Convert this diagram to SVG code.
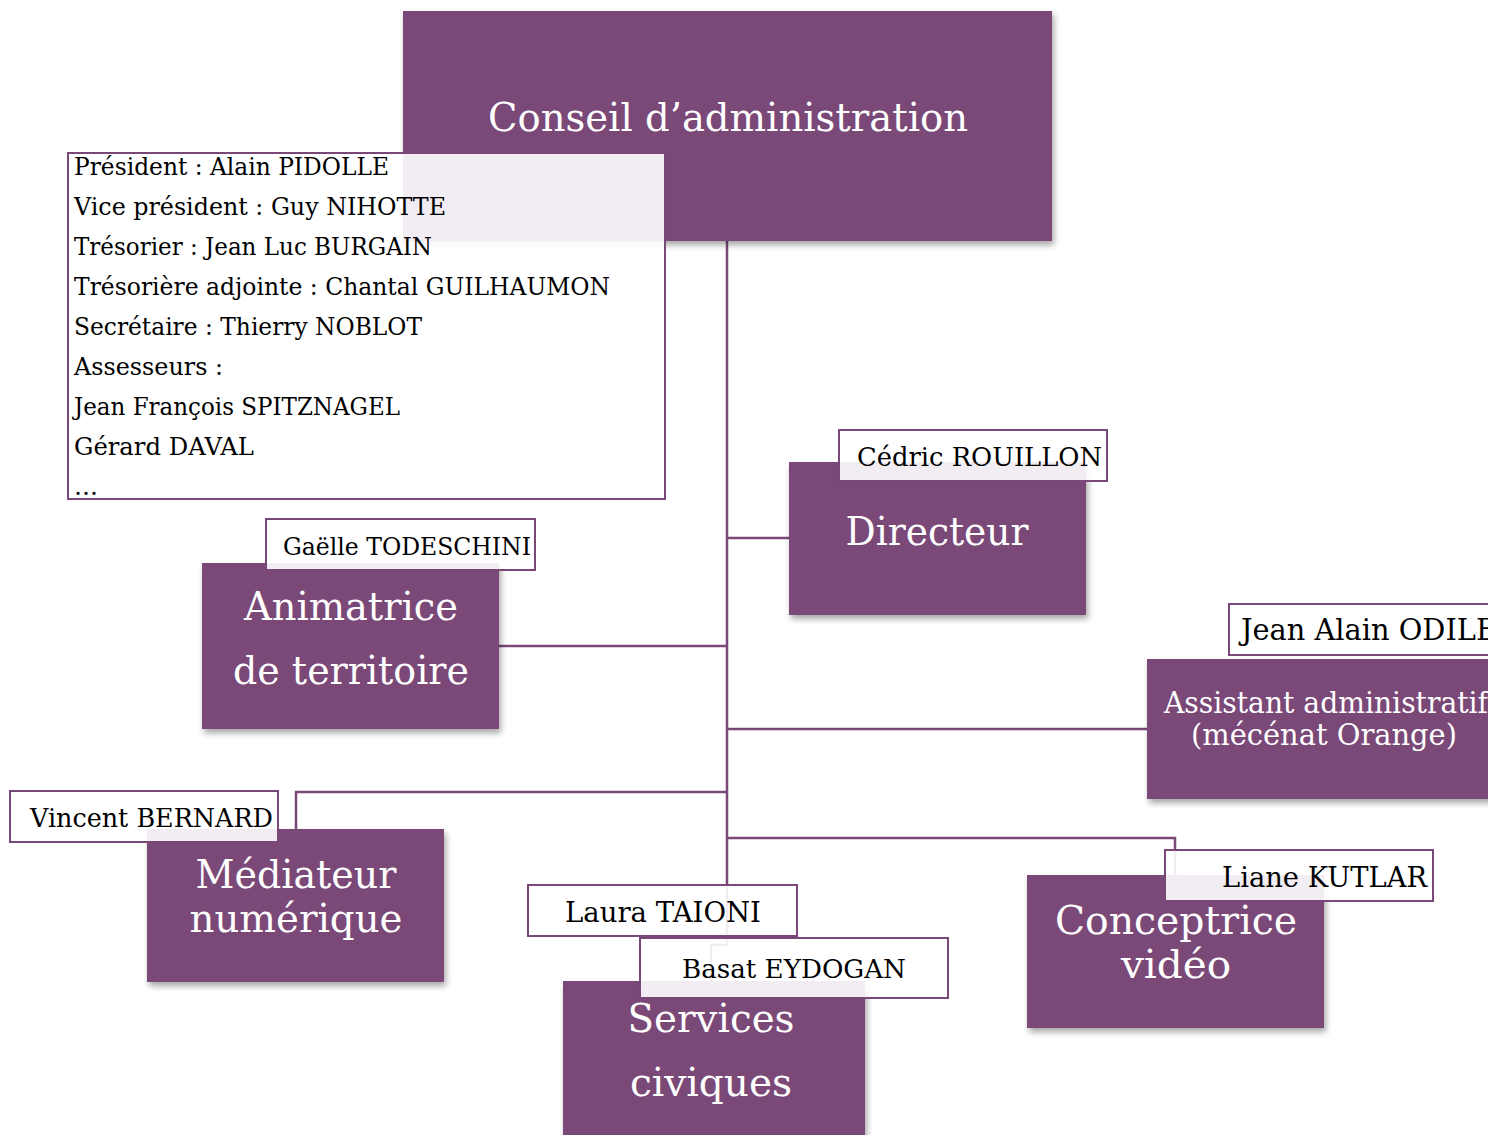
<svg xmlns="http://www.w3.org/2000/svg" width="1488" height="1135" viewBox="0 0 1488 1135">
<defs>
<filter id="sh" x="-10%" y="-10%" width="125%" height="130%">
<feDropShadow dx="2" dy="4" stdDeviation="3" flood-color="#000" flood-opacity="0.35"/>
</filter>
</defs>
<style>
.box{fill:#7A4878;filter:url(#sh)}
.tag{fill:#fff;fill-opacity:0.9;stroke:#7A4878;stroke-width:2}
.t{font-family:"DejaVu Serif","Liberation Serif",serif;fill:#fff;font-size:40px;text-anchor:middle}
.n{font-family:"DejaVu Serif","Liberation Serif",serif;fill:#000;font-size:26px}
.l{font-family:"DejaVu Serif","Liberation Serif",serif;fill:#000;font-size:24px}
.c{fill:none;stroke:#7A4878;stroke-width:2.5}
</style>
<rect width="1488" height="1135" fill="#fff"/>
<g id="connectors">
<path class="c" d="M727 241 V945 H711 V981"/>
<path class="c" d="M727 538 H789"/>
<path class="c" d="M727 646 H499"/>
<path class="c" d="M727 729 H1147"/>
<path class="c" d="M727 792 H296 V829"/>
<path class="c" d="M727 838 H1175 V875"/>
</g>
<g id="conseil">
<rect class="box" x="403" y="11" width="649" height="230"/>
<text class="t" x="728" y="131" textLength="480" lengthAdjust="spacingAndGlyphs">Conseil d’administration</text>
</g>
<g id="membres">
<rect class="tag" x="68" y="153" width="597" height="346"/>
<text class="l" x="74" y="175" textLength="315" lengthAdjust="spacingAndGlyphs">Président : Alain PIDOLLE</text>
<text class="l" x="74" y="215" textLength="372" lengthAdjust="spacingAndGlyphs">Vice président : Guy NIHOTTE</text>
<text class="l" x="74" y="255" textLength="358" lengthAdjust="spacingAndGlyphs">Trésorier : Jean Luc BURGAIN</text>
<text class="l" x="74" y="295" textLength="536" lengthAdjust="spacingAndGlyphs">Trésorière adjointe : Chantal GUILHAUMON</text>
<text class="l" x="74" y="335" textLength="348" lengthAdjust="spacingAndGlyphs">Secrétaire : Thierry NOBLOT</text>
<text class="l" x="74" y="375" textLength="149" lengthAdjust="spacingAndGlyphs">Assesseurs :</text>
<text class="l" x="74" y="415" textLength="326" lengthAdjust="spacingAndGlyphs">Jean François SPITZNAGEL</text>
<text class="l" x="74" y="455" textLength="180" lengthAdjust="spacingAndGlyphs">Gérard DAVAL</text>
<text class="l" x="74" y="495">…</text>
</g>
<g id="directeur">
<rect class="box" x="789" y="462" width="297" height="153"/>
<text class="t" x="937" y="545" textLength="183" lengthAdjust="spacingAndGlyphs">Directeur</text>
<rect class="tag" x="839" y="430" width="268" height="51"/>
<text class="n" x="857" y="466" textLength="245" lengthAdjust="spacingAndGlyphs">Cédric ROUILLON</text>
</g>
<g id="animatrice">
<rect class="box" x="202" y="563" width="297" height="166"/>
<text class="t" x="351" y="620" textLength="214" lengthAdjust="spacingAndGlyphs">Animatrice</text>
<text class="t" x="351" y="684" textLength="236" lengthAdjust="spacingAndGlyphs">de territoire</text>
<rect class="tag" x="266" y="519" width="269" height="51"/>
<text class="l" x="283" y="555" textLength="248" lengthAdjust="spacingAndGlyphs">Gaëlle TODESCHINI</text>
</g>
<g id="assistant">
<rect class="box" x="1147" y="659" width="350" height="140"/>
<text class="t" x="1164" y="713" style="text-anchor:start;font-size:29px" textLength="324" lengthAdjust="spacingAndGlyphs">Assistant administratif</text>
<text class="t" x="1324" y="745" style="font-size:29px" textLength="266" lengthAdjust="spacingAndGlyphs">(mécénat Orange)</text>
<rect class="tag" x="1229" y="604" width="270" height="51"/>
<text class="n" x="1241" y="640" style="font-size:29px" textLength="256" lengthAdjust="spacingAndGlyphs">Jean Alain ODILE</text>
</g>
<g id="mediateur">
<rect class="box" x="147" y="829" width="297" height="153"/>
<text class="t" x="296" y="888" textLength="201" lengthAdjust="spacingAndGlyphs">Médiateur</text>
<text class="t" x="296" y="932" textLength="213" lengthAdjust="spacingAndGlyphs">numérique</text>
<rect class="tag" x="10" y="791" width="268" height="51"/>
<text class="n" x="30" y="827" textLength="243" lengthAdjust="spacingAndGlyphs">Vincent BERNARD</text>
</g>
<g id="conceptrice">
<rect class="box" x="1027" y="875" width="297" height="153"/>
<text class="t" x="1176" y="934" textLength="242" lengthAdjust="spacingAndGlyphs">Conceptrice</text>
<text class="t" x="1176" y="978" textLength="110" lengthAdjust="spacingAndGlyphs">vidéo</text>
<rect class="tag" x="1165" y="850" width="268" height="51"/>
<text class="n" x="1222" y="887" style="font-size:28px" textLength="205" lengthAdjust="spacingAndGlyphs">Liane KUTLAR</text>
</g>
<g id="services">
<rect class="box" x="563" y="981" width="302" height="170"/>
<text class="t" x="711" y="1032" textLength="167" lengthAdjust="spacingAndGlyphs">Services</text>
<text class="t" x="711" y="1096" textLength="162" lengthAdjust="spacingAndGlyphs">civiques</text>
<rect class="tag" x="528" y="885" width="269" height="51"/>
<text class="n" x="565" y="922" style="font-size:28px" textLength="196" lengthAdjust="spacingAndGlyphs">Laura TAIONI</text>
<rect class="tag" x="640" y="938" width="308" height="60"/>
<text class="n" x="682" y="978" textLength="224" lengthAdjust="spacingAndGlyphs">Basat EYDOGAN</text>
</g>
</svg>
